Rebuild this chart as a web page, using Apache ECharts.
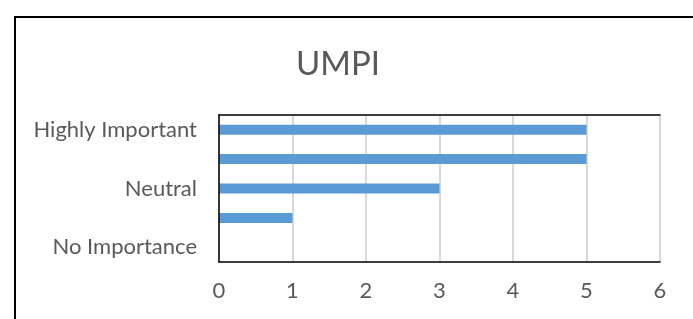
<!DOCTYPE html>
<html>
<head>
<meta charset="utf-8">
<script src="https://cdn.jsdelivr.net/npm/echarts@6/dist/echarts.min.js"></script>
<style>
  html, body { margin: 0; padding: 0; background: #fff; }
  #umpi { width: 693px; height: 319px; }
</style>
</head>
<body>
<div id="umpi"></div>
<script>
// categories bottom to top, the unlabeled ones are blank in the source
var levels = ['No Importance', '', 'Neutral', '', 'Highly Important'];
var counts = [0, 1, 3, 5, 5];
var xTicks = [0, 1, 2, 3, 4, 5, 6];

var myChart = echarts.init(document.getElementById('umpi'));
var textFont = 'Lato';
var option = {
    animation: false,
    title: {
        text: 'UMPI',
        left: 333,
        top: 43,
        textAlign: 'center',
        textStyle: {
            fontFamily: textFont,
            fontSize: 33,
            fontWeight: 'normal',
            color: '#595959'
        }
    },
    graphic: [
        {
            // outer chart-area frame, cropped on the right/bottom
            type: 'rect',
            shape: { x: 15, y: 17, width: 900, height: 500 },
            style: { fill: 'none', stroke: '#000', lineWidth: 2 },
            silent: true
        }
    ],
    grid: {
        left: 219,
        right: 33,
        top: 115,
        bottom: 57
    },
    xAxis: [
        {
            type: 'value',
            min: xTicks[0],
            max: xTicks[xTicks.length - 1],
            interval: 1,
            axisLine: { show: true, lineStyle: { color: '#000', width: 1.5 } },
            axisTick: { show: false },
            splitLine: { show: true, lineStyle: { color: '#d9d9d9', width: 2 } },
            axisLabel: {
                margin: 18,
                fontFamily: textFont,
                fontSize: 22,
                color: '#595959'
            }
        },
        {
            type: 'value',
            position: 'top',
            min: xTicks[0],
            max: xTicks[xTicks.length - 1],
            interval: 1,
            z: 5,
            axisLine: { show: true, lineStyle: { color: '#000', width: 1.5 } },
            axisTick: { show: false },
            splitLine: { show: false },
            axisLabel: { show: false }
        }
    ],
    yAxis: [
        {
            type: 'category',
            data: levels,
            axisLine: { show: false },
            axisTick: { show: false },
            splitLine: { show: false },
            axisLabel: {
                interval: 0,
                margin: 22,
                fontFamily: textFont,
                fontSize: 22,
                color: '#595959'
            }
        },
        {
            type: 'category',
            position: 'right',
            data: levels,
            z: 5,
            axisLine: { show: true, lineStyle: { color: '#000', width: 1.5 } },
            axisTick: { show: false },
            axisLabel: { show: false }
        }
    ],
    series: [
        {
            name: 'UMPI',
            type: 'bar',
            barWidth: 10,
            itemStyle: { color: '#5b9bd5' },
            data: counts
        }
    ]
};
myChart.setOption(option);
</script>
</body>
</html>
